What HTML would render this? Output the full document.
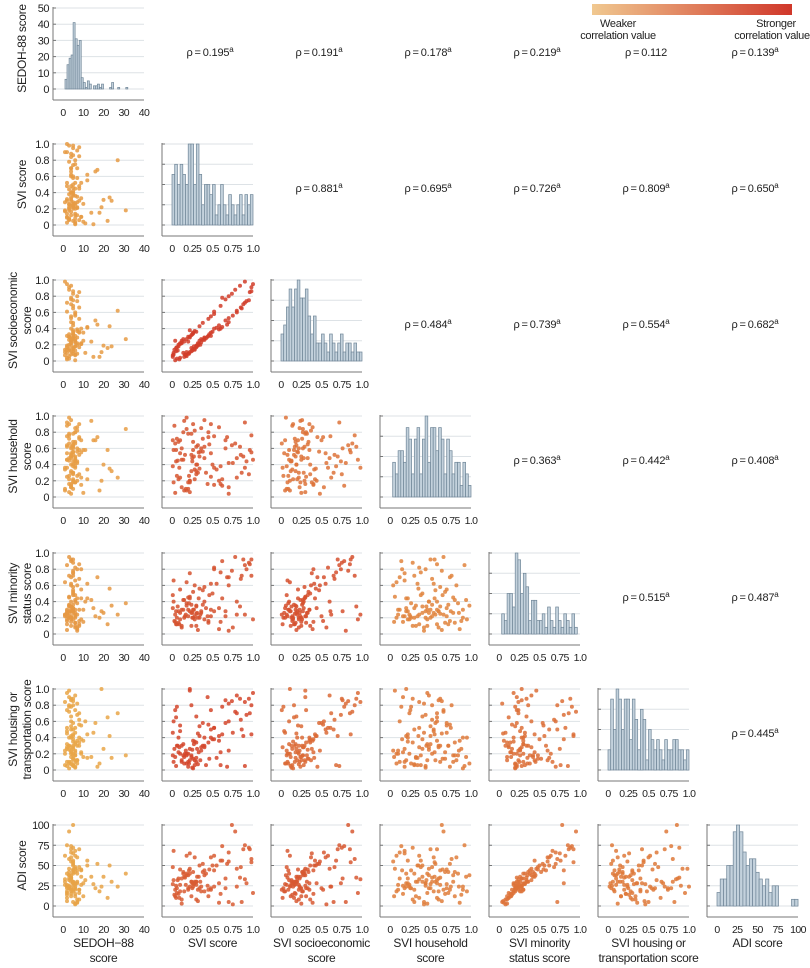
<!DOCTYPE html>
<html><head><meta charset="utf-8">
<style>
html,body{margin:0;padding:0;background:#fff;}
svg{display:block;font-family:"Liberation Sans",sans-serif;}
</style></head>
<body>
<svg id="chart" width="810" height="968" viewBox="0 0 810 968">
<defs><linearGradient id="cg" x1="0" x2="1"><stop offset="0" stop-color="#f0c890"/><stop offset="1" stop-color="#d0372a"/></linearGradient></defs>
<rect x="592" y="4" width="200" height="11" fill="url(#cg)"/>
<text x="618" y="27" font-size="11" letter-spacing="-0.3" text-anchor="middle" fill="#222">Weaker</text>
<text x="618" y="39" font-size="11" letter-spacing="-0.3" text-anchor="middle" fill="#222">correlation value</text>
<text x="776" y="27" font-size="11" letter-spacing="-0.3" text-anchor="middle" fill="#222">Stronger</text>
<text x="772" y="39" font-size="11" letter-spacing="-0.3" text-anchor="middle" fill="#222">correlation value</text>
</svg>
<script>
const varNames=[["SEDOH-88 score"],["SVI score"],["SVI socioeconomic","score"],["SVI household","score"],["SVI minority","status score"],["SVI housing or","transportation score"],["ADI score"]];
const xTitles=[["SEDOH\u221288","score"],["SVI score"],["SVI socioeconomic","score"],["SVI household","score"],["SVI minority","status score"],["SVI housing or","transportation score"],["ADI score"]];
const rhoVals=[[null,0.195,0.191,0.178,0.219,0.112,0.139],[0,null,0.881,0.695,0.726,0.809,0.650],[0,0,null,0.484,0.739,0.554,0.682],[0,0,0,null,0.363,0.442,0.408],[0,0,0,0,null,0.515,0.487],[0,0,0,0,0,null,0.445]];
const rhoSig=[[0,1,1,1,1,0,1],[0,0,1,1,1,1,1],[0,0,0,1,1,1,1],[0,0,0,0,1,1,1],[0,0,0,0,0,1,1],[0,0,0,0,0,0,1]];
const sedoh=[18,5,24,7,4,3,8,5,6,2,4,11,5,3,2,6,17,4,27,9,1,3,5,4,7,3,2,14,6,5,4,6,8,5,3,2,19,7,31,5,2,6,4,5,12,8,22,3,5,7,2,5,3,6,16,4,9,5,4,6,3,5,4,6,2,7,5,4,8,1,6,3,9,5,4,2,7,12,5,6,3,4,10,6,8,1,5,7,4,3,15,6,20,5,23,4,2,5,6,8,1,4,3,7,9,5,4,2,6,10];
const svi=[0.15,0.05,0.30,0.12,0.16,0.20,0.48,0.28,0.12,0.09,0.60,0.02,0.42,0.25,0.32,0.01,0.68,0.48,0.80,0.10,0.28,0.38,0.22,0.88,0.70,0.06,0.30,0.15,0.45,0.20,0.70,0.52,0.85,0.95,0.78,1.00,0.22,0.35,0.18,0.50,0.10,0.25,0.12,0.40,0.62,0.45,0.05,0.18,0.26,0.58,0.90,0.74,0.98,0.80,0.66,0.30,0.10,0.36,0.24,0.02,0.22,0.58,0.34,0.08,0.14,0.28,0.86,0.62,0.96,0.90,0.04,0.26,0.33,0.24,0.40,0.03,0.21,0.55,0.38,0.75,0.08,0.40,0.26,0.36,0.06,0.18,0.60,0.92,0.84,0.44,0.01,0.20,0.31,0.46,0.34,0.70,0.52,0.24,0.14,0.30,0.17,0.32,0.07,0.22,0.52,0.98,0.66,0.48,0.27,0.04];
const ses=[0.05,0.12,0.18,0.22,0.08,0.30,0.35,0.15,0.25,0.02,0.40,0.10,0.28,0.33,0.19,0.07,0.45,0.55,0.62,0.21,0.14,0.26,0.38,0.70,0.80,0.03,0.17,0.24,0.31,0.09,0.48,0.58,0.66,0.75,0.88,0.95,0.11,0.20,0.27,0.36,0.04,0.13,0.23,0.29,0.42,0.52,0.16,0.06,0.34,0.39,0.72,0.83,0.91,0.60,0.50,0.19,0.22,0.27,0.12,0.08,0.30,0.44,0.25,0.18,0.10,0.37,0.65,0.78,0.85,0.98,0.01,0.15,0.21,0.32,0.26,0.14,0.09,0.41,0.47,0.56,0.20,0.28,0.35,0.23,0.17,0.11,0.68,0.74,0.93,0.30,0.05,0.24,0.19,0.33,0.43,0.53,0.61,0.16,0.27,0.36,0.07,0.22,0.13,0.29,0.40,0.86,0.76,0.31,0.18,0.25];
const household=[0.08,0.44,0.32,0.60,0.52,0.78,0.90,0.22,0.46,0.36,0.16,0.58,0.30,0.48,0.64,0.38,0.74,0.54,0.24,0.70,0.34,0.72,0.18,0.50,0.42,0.26,0.62,0.94,0.80,0.10,0.04,0.36,0.52,0.28,0.66,0.46,0.20,0.56,0.84,0.40,0.54,0.44,0.12,0.62,0.22,0.74,0.58,0.98,0.68,0.86,0.92,0.64,0.76,0.48,0.70,0.40,0.24,0.60,0.32,0.18,0.06,0.20,0.50,0.68,0.46,0.82,0.30,0.14,0.58,0.36,0.66,0.90,0.55,0.78,0.95,0.88,0.26,0.34,0.56,0.42,0.22,0.48,0.58,0.85,0.72,0.08,0.38,0.44,0.62,0.16,0.70,0.18,0.40,0.65,0.35,0.12,0.75,0.52,0.80,0.28,0.10,0.30,0.45,0.20,0.15,0.55,0.60,0.25,0.50,0.05];
const minority=[0.20,0.28,0.35,0.08,0.22,0.45,0.30,0.18,0.10,0.12,0.15,0.40,0.32,0.26,0.05,0.48,0.70,0.62,0.24,0.55,0.22,0.36,0.75,0.92,0.04,0.20,0.25,0.42,0.14,0.30,0.60,0.82,0.68,0.88,0.95,0.18,0.28,0.24,0.38,0.50,0.26,0.20,0.30,0.58,0.44,0.16,0.12,0.35,0.52,0.06,0.85,0.78,0.72,0.40,0.22,0.34,0.18,0.28,0.10,0.66,0.46,0.32,0.20,0.14,0.30,0.60,0.72,0.90,0.86,0.24,0.24,0.20,0.44,0.26,0.18,0.16,0.38,0.62,0.54,0.08,0.28,0.40,0.30,0.26,0.12,0.64,0.76,0.80,0.34,0.22,0.32,0.22,0.26,0.48,0.56,0.70,0.28,0.36,0.42,0.10,0.24,0.20,0.34,0.44,0.80,0.92,0.28,0.22,0.30,0.15];
const housing=[0.08,0.05,0.15,0.30,0.20,0.10,0.40,0.35,0.12,0.28,0.22,0.60,0.06,0.25,0.45,0.18,0.04,0.50,0.70,0.55,0.06,0.30,0.26,0.42,0.82,0.78,0.10,0.16,0.34,0.20,0.24,0.52,0.62,0.88,0.72,0.95,1.00,0.12,0.18,0.38,0.48,0.03,0.10,0.30,0.44,0.56,0.65,0.08,0.14,0.36,0.05,0.85,0.80,0.92,0.58,0.66,0.20,0.28,0.16,0.10,0.98,0.42,0.54,0.22,0.32,0.12,0.50,0.78,0.70,0.84,0.74,0.02,0.22,0.18,0.40,0.26,0.08,0.15,0.58,0.46,0.40,0.28,0.36,0.24,0.30,0.20,0.06,0.68,0.88,0.90,0.46,0.04,0.26,0.14,0.42,0.60,0.52,0.80,0.18,0.34,0.24,0.07,0.30,0.12,0.38,0.44,0.86,0.74,0.32,0.16];
const adi=[18,25,30,8,35,38,20,28,3,10,15,32,40,22,6,48,52,60,24,45,30,42,65,70,5,22,26,36,12,20,55,62,48,72,92,16,24,30,40,50,18,28,34,44,56,20,10,38,42,4,75,100,58,46,22,30,26,18,12,68,46,28,22,15,40,60,5,74,70,33,20,24,36,30,18,14,44,50,52,2,34,38,28,24,16,62,56,28,35,25,27,22,36,45,50,66,24,30,42,8,26,20,32,40,44,54,34,22,27,12];
const sedohHistCounts=[0,6,15,19,21,41,31,27,30,7,4,1,5,3,0,2,2,3,1,3,0,0,0,1,4,0,0,1,0,0,0,1];
const xTicks=[[0,10,20,30,40],[0,0.25,0.5,0.75,1],[0,0.25,0.5,0.75,1],[0,0.25,0.5,0.75,1],[0,0.25,0.5,0.75,1],[0,0.25,0.5,0.75,1],[0,25,50,75,100]];
const xTickLabels=[["0","10","20","30","40"],["0","0.25","0.5","0.75","1.0"],["0","0.25","0.5","0.75","1.0"],["0","0.25","0.5","0.75","1.0"],["0","0.25","0.5","0.75","1.0"],["0","0.25","0.5","0.75","1.0"],["0","25","50","75","100"]];
const yTicks=[[0,10,20,30,40,50],[0,0.2,0.4,0.6,0.8,1],[0,0.2,0.4,0.6,0.8,1],[0,0.2,0.4,0.6,0.8,1],[0,0.2,0.4,0.6,0.8,1],[0,0.2,0.4,0.6,0.8,1],[0,25,50,75,100]];
const yTickLabels=[["0","10","20","30","40","50"],["0","0.2","0.4","0.6","0.8","1.0"],["0","0.2","0.4","0.6","0.8","1.0"],["0","0.2","0.4","0.6","0.8","1.0"],["0","0.2","0.4","0.6","0.8","1.0"],["0","0.2","0.4","0.6","0.8","1.0"],["0","25","50","75","100"]];
const ranges=[[0,40],[0,1],[0,1],[0,1],[0,1],[0,1],[0,100]];
const data=[sedoh,svi,ses,household,minority,housing,adi];

const NS="http://www.w3.org/2000/svg";
const svg=document.getElementById('chart');
function mk(tag,attrs,parent){const e=document.createElementNS(NS,tag);for(const k in attrs)e.setAttribute(k,attrs[k]);(parent||svg).appendChild(e);return e;}
const colX=[53,162,271,380,489,598,707];
const rowY=[8,144,280,416,553,689,825];
const PW=81,PH=81,PAD=10;
function sx(j,v){return colX[j]+PAD+(v-ranges[j][0])/(ranges[j][1]-ranges[j][0])*PW;}
function sy(i,v){return rowY[i]+PH-(v-ranges[i][0])/(ranges[i][1]-ranges[i][0])*PH;}
function lerp(a,b,t){return Math.round(a+(b-a)*t);}
function rhoColor(r){let t=Math.max(0,Math.min(1,(r-0.1)/0.8));const c0=[233,168,72],c1=[208,58,40];return `rgb(${lerp(c0[0],c1[0],t)},${lerp(c0[1],c1[1],t)},${lerp(c0[2],c1[2],t)})`;}

function axes(i,j,g,showY,yT,yL){
  const x0=colX[j],y0=rowY[i];
  yT.forEach((v,k)=>{const y=y0+PH-(v-yT[0])/(yT[yT.length-1]-yT[0])*PH;
    mk('line',{x1:x0,x2:x0+PAD+PW,y1:y,y2:y,stroke:'#dde2e6','stroke-width':1},g);
    mk('line',{x1:x0,x2:x0+3,y1:y,y2:y,stroke:'#777','stroke-width':1},g);
    if(showY){const t=mk('text',{x:x0-4,y:y+4,'font-size':11,'letter-spacing':-0.5,'text-anchor':'end',fill:'#222'},g);t.textContent=yL[k];}
  });
  mk('line',{x1:x0,x2:x0,y1:y0-1,y2:y0+PH+PAD+1,stroke:'#777','stroke-width':1},g);
  mk('line',{x1:x0,x2:x0+PAD+PW,y1:y0+PH+PAD+1,y2:y0+PH+PAD+1,stroke:'#777','stroke-width':1},g);
  xTicks[j].forEach((v,k)=>{const t=mk('text',{x:sx(j,v),y:y0+PH+PAD+17,'font-size':10.5,'letter-spacing':-0.6,'text-anchor':'middle',fill:'#222'},g);t.textContent=xTickLabels[j][k];});
}

for(let i=0;i<7;i++){
  for(let j=0;j<7;j++){
    const g=mk('g',{});
    if(j<i){
      
      
      axes(i,j,g,j===0,yTicks[i],yTickLabels[i]);
      const col=rhoColor(rhoVals[j][i]);
      const xs=data[j],ys=data[i];
      for(let k=0;k<xs.length;k++){
        const c=mk('circle',{cx:sx(j,xs[k]).toFixed(1),cy:sy(i,ys[k]).toFixed(1),r:2,fill:col,'fill-opacity':0.85},g);
        
        
      }
    } else if(j===i){
      
      
      let counts,nb;
      if(i===0){counts=sedohHistCounts;nb=40;}
      else{nb=(i===6)?25:30;counts=new Array(nb).fill(0);
        data[i].forEach(v=>{let b=Math.floor((v-ranges[i][0])/(ranges[i][1]-ranges[i][0])*nb);if(b>=nb)b=nb-1;counts[b]++;});}
      let ymax=(i===0)?50:Math.max(...counts);
      const yT=(i===0)?yTicks[0]:[0,ymax*0.25,ymax*0.5,ymax*0.75,ymax];
      axes(i,j,g,i===0,yT,yTickLabels[0]);
      const bw=PW/nb;
      counts.forEach((c,b)=>{ if(c<=0)return;
        const h=c/ymax*PH;
        const r=mk('rect',{x:(colX[j]+PAD+b*bw).toFixed(1),y:(rowY[i]+PH-h).toFixed(1),width:bw.toFixed(2),height:h.toFixed(1),fill:'#c3d1dc',stroke:'#6f8597','stroke-width':0.7},g);
        
        
      });
    } else {
      
      
      const t=mk('text',{x:colX[j]+48,y:rowY[i]+48,'font-size':11,'letter-spacing':-0.2,'text-anchor':'middle',fill:'#222'},g);
      t.textContent='\u03c1\u2009=\u20090.'+rhoVals[i][j].toFixed(3).slice(2);
      if(rhoSig[i][j]){const s=mk('tspan',{'font-size':8,dy:-4},t);s.textContent='a';}
    }
  }
  const lab=varNames[i];
  const cy=rowY[i]+PH/2;
  lab.forEach((line,k)=>{
    const x=(lab.length===1)?26:(17+k*14);
    const t=mk('text',{x:x,y:cy,'font-size':12,'letter-spacing':-0.3,'text-anchor':'middle',fill:'#222',transform:`rotate(-90 ${x} ${cy})`});
    
    
    t.textContent=line;
  });
  xTitles[i].forEach((line,k)=>{
    const t=mk('text',{x:colX[i]+PAD+PW/2,y:947+k*15,'font-size':12,'letter-spacing':-0.3,'text-anchor':'middle',fill:'#222'});
    
    
    t.textContent=line;
  });
}
</script>
</body></html>
